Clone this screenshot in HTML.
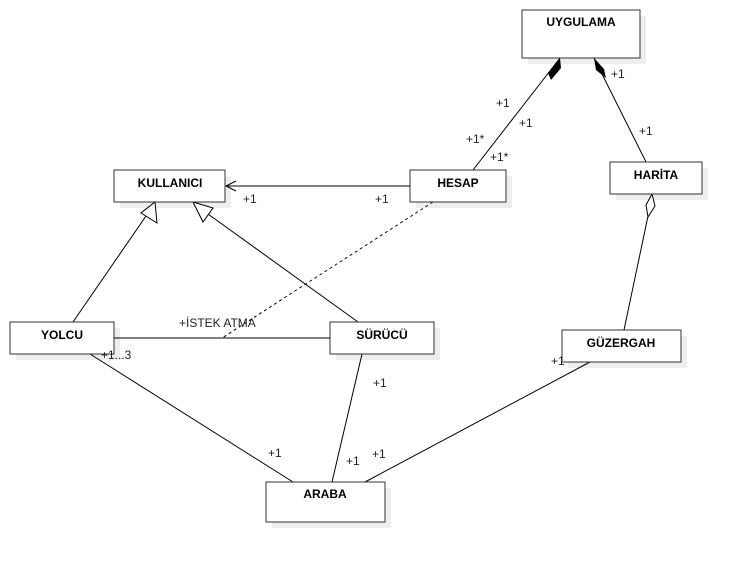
<!DOCTYPE html>
<html><head><meta charset="utf-8"><style>
body{margin:0;background:#fff;}
svg{display:block;font-family:"Liberation Sans",sans-serif;}
.b{font-weight:bold;font-size:12px;}
.l{font-size:12px;fill:#222;}
</style></head><body>
<svg width="741" height="562" viewBox="0 0 741 562">
<g fill="#eeeeee">
<rect x="528" y="16" width="118" height="48"/>
<rect x="416" y="176" width="96" height="32"/>
<rect x="616" y="168" width="92" height="32"/>
<rect x="120" y="176" width="111" height="32"/>
<rect x="16" y="328" width="104" height="32"/>
<rect x="336" y="328" width="104" height="32"/>
<rect x="568" y="336" width="119" height="32"/>
<rect x="272" y="488" width="119" height="40"/>
</g>
<g stroke="#000" stroke-width="1" fill="none">
<line x1="473" y1="170" x2="560" y2="58"/>
<line x1="646" y1="162" x2="594" y2="58"/>
<line x1="410" y1="186" x2="226" y2="186"/>
<polyline points="236,181 226,186 236,191"/>
<line x1="433" y1="202" x2="222" y2="338" stroke-dasharray="3,3"/>
<line x1="114" y1="338" x2="330" y2="338"/>
<line x1="73" y1="322" x2="146" y2="216"/>
<line x1="358" y1="322" x2="208" y2="214"/>
<line x1="624" y1="330" x2="648" y2="216"/>
<line x1="90" y1="354" x2="293" y2="482"/>
<line x1="362" y1="354" x2="332" y2="482"/>
<line x1="590" y1="362" x2="365" y2="482"/>
</g>
<polygon points="560,58 561,68 551,80 548,73" fill="#000"/>
<polygon points="594,58 604,69 606,78 596,70" fill="#000"/>
<polygon points="155,202 157,223 141,213" fill="#fff" stroke="#000"/>
<polygon points="193,202 213,208 203,222" fill="#fff" stroke="#000"/>
<polygon points="652,194 655,206 648,217 646,205" fill="#fff" stroke="#000"/>
<g fill="#fff" stroke="#333">
<rect x="522" y="10" width="118" height="48"/>
<rect x="410" y="170" width="96" height="32"/>
<rect x="610" y="162" width="92" height="32"/>
<rect x="114" y="170" width="111" height="32"/>
<rect x="10" y="322" width="104" height="32"/>
<rect x="330" y="322" width="104" height="32"/>
<rect x="562" y="330" width="119" height="32"/>
<rect x="266" y="482" width="119" height="40"/>
</g>
<g class="b" text-anchor="middle">
<text x="581" y="26">UYGULAMA</text>
<text x="458" y="187">HESAP</text>
<text x="656" y="179">HARİTA</text>
<text x="170" y="187">KULLANICI</text>
<text x="62" y="339">YOLCU</text>
<text x="382" y="339">SÜRÜCÜ</text>
<text x="621" y="347">GÜZERGAH</text>
<text x="325" y="498">ARABA</text>
</g>
<g class="l">
<text x="496" y="107">+1</text>
<text x="519" y="127">+1</text>
<text x="466" y="143">+1*</text>
<text x="490" y="161">+1*</text>
<text x="611" y="78">+1</text>
<text x="639" y="135">+1</text>
<text x="243" y="203">+1</text>
<text x="375" y="203">+1</text>
<text x="179" y="327">+İSTEK ATMA</text>
<text x="101" y="359">+1...3</text>
<text x="373" y="387">+1</text>
<text x="551" y="365">+1</text>
<text x="268" y="457">+1</text>
<text x="346" y="465">+1</text>
<text x="372" y="458">+1</text>
</g>
</svg>
</body></html>
